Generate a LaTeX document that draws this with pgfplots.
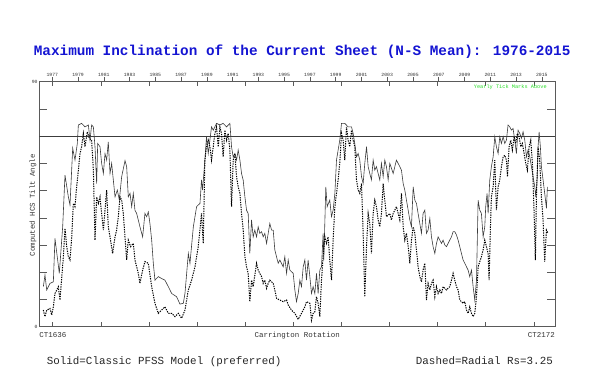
\documentclass[border=0pt]{standalone}
\usepackage{pgfplots}
\pgfplotsset{compat=1.18}
\usepackage{pgfplotstable}
\usepackage{fontspec}
\setmainfont{Liberation Mono}
\newfontfamily\mono{Liberation Mono}
\definecolor{titleblue}{RGB}{20,20,210}
\definecolor{solidgray}{RGB}{60,60,60}
\definecolor{boxgray}{RGB}{90,90,90}
\definecolor{limegreen}{RGB}{40,220,40}

\pgfplotstableread{
cr v
1640.2 14.7
1641.9 19.0
1643.7 13.5
1647.1 15.9
1650.6 16.5
1652.3 32.4
1656.8 19.6
1660.3 36.7
1662.7 55.7
1666.2 47.7
1667.9 44.7
1670.7 65.5
1673.1 61.2
1675.5 67.3
1676.6 74.1
1680.0 74.7
1683.5 73.4
1687.0 74.1
1688.7 68.5
1690.4 74.1
1692.2 73.4
1693.9 66.1
1695.6 52.6
1696.7 67.3
1699.1 66.1
1700.8 60.0
1702.6 56.3
1704.3 63.6
1706.0 61.2
1707.7 67.9
1709.5 56.3
1711.2 60.0
1714.7 47.7
1717.1 50.2
1719.2 46.5
1721.6 55.1
1725.1 61.0
1726.8 58.8
1728.5 47.7
1730.3 49.0
1732.0 44.1
1733.7 49.0
1735.4 42.8
1737.2 41.6
1740.6 36.7
1743.4 33.0
1745.8 41.6
1747.6 40.4
1749.3 42.2
1751.0 37.9
1752.8 31.8
1754.5 23.3
1756.2 17.1
1759.7 18.4
1763.1 17.7
1766.6 17.1
1770.1 14.7
1773.6 12.2
1778.7 11.0
1782.2 8.3
1785.7 8.6
1787.4 12.2
1790.9 26.9
1792.6 23.3
1796.1 36.7
1799.5 44.1
1803.0 45.3
1804.6 53.9
1805.7 50.2
1808.1 61.2
1809.8 69.8
1811.6 63.6
1813.3 68.5
1815.0 73.4
1816.8 72.2
1820.2 74.7
1823.7 74.1
1827.1 74.7
1830.6 73.4
1834.1 74.7
1835.8 66.1
1837.5 62.4
1839.3 63.6
1841.0 61.2
1842.7 64.9
1844.5 61.2
1846.2 56.3
1847.9 53.9
1849.7 47.7
1851.4 42.8
1853.1 41.6
1854.8 26.9
1856.6 39.2
1858.3 33.0
1860.0 35.5
1861.8 33.0
1863.5 36.7
1865.2 34.3
1867.0 34.9
1868.7 33.0
1870.4 34.3
1872.2 30.6
1875.6 37.9
1877.4 35.5
1879.1 35.5
1880.8 28.2
1884.3 23.3
1886.0 24.5
1889.5 22.0
1891.2 25.7
1893.0 19.6
1894.7 24.5
1896.4 20.8
1899.9 19.6
1901.6 13.5
1903.3 9.2
1905.1 12.2
1906.8 17.1
1908.5 14.7
1910.3 22.0
1912.0 24.5
1913.7 17.1
1915.4 24.5
1917.2 18.4
1918.9 12.2
1920.6 14.7
1922.4 12.2
1924.1 19.6
1925.8 12.2
1927.6 20.8
1929.3 22.0
1931.0 34.3
1931.7 24.5
1933.8 51.4
1935.2 44.1
1937.9 46.5
1939.7 40.4
1941.4 42.8
1943.2 49.0
1944.9 61.2
1946.6 64.9
1948.3 68.5
1950.1 74.7
1953.5 74.7
1957.0 73.4
1960.5 73.4
1962.2 71.0
1963.9 67.3
1965.7 62.4
1967.4 63.6
1969.1 61.2
1970.9 55.1
1972.6 52.6
1974.3 60.0
1976.1 66.1
1977.8 58.8
1979.5 56.3
1981.2 53.9
1983.0 61.2
1984.7 57.5
1986.4 58.8
1988.2 56.3
1989.9 53.9
1991.6 60.0
1993.4 55.1
1995.1 61.2
1996.8 58.8
1998.6 53.9
2000.3 60.0
2003.8 56.3
2007.2 61.2
2010.7 58.8
2012.4 57.5
2014.2 52.6
2015.9 50.2
2017.6 46.5
2019.4 42.8
2021.1 39.2
2022.8 36.7
2024.6 51.4
2026.3 46.5
2028.0 45.3
2029.7 41.6
2031.5 37.9
2033.2 34.3
2034.9 41.6
2036.7 42.8
2038.4 34.3
2040.1 35.5
2041.9 39.8
2043.6 33.0
2045.3 29.4
2047.1 26.9
2048.8 30.6
2050.5 33.0
2052.3 31.8
2054.0 30.6
2055.7 31.8
2057.5 30.0
2059.2 29.4
2060.9 30.6
2062.6 31.8
2064.4 33.0
2066.1 34.9
2067.8 34.9
2069.6 33.7
2071.3 31.8
2073.0 29.4
2074.8 26.9
2076.5 24.5
2078.2 23.3
2080.0 22.0
2081.7 20.8
2083.4 18.4
2085.2 20.8
2086.9 14.7
2088.6 9.8
2090.4 17.1
2092.1 46.5
2093.8 42.8
2095.5 41.6
2097.3 33.0
2099.0 36.7
2100.0 44.1
2101.4 49.0
2102.5 41.6
2104.2 53.9
2105.9 58.8
2107.7 62.4
2109.4 69.8
2111.1 66.1
2112.9 63.6
2114.6 69.8
2116.3 67.3
2118.1 69.8
2119.8 67.3
2121.5 68.5
2123.2 74.1
2125.0 73.4
2126.7 72.2
2128.4 72.8
2130.2 68.5
2131.9 63.6
2133.6 72.2
2135.4 71.0
2137.1 69.2
2138.8 71.6
2140.6 68.5
2142.3 62.4
2144.0 64.9
2145.8 62.4
2147.5 58.8
2149.2 55.1
2151.0 51.4
2152.0 47.7
2153.4 53.9
2154.4 66.1
2155.5 71.6
2156.8 66.1
2157.9 58.8
2159.6 53.9
2161.3 49.0
2163.1 43.5
2164.1 51.4
}\solidtab

\pgfplotstableread{
cr v
1640.2 6.1
1641.9 3.7
1643.7 6.1
1647.1 6.7
1648.9 4.3
1650.6 7.3
1652.3 12.2
1655.8 14.7
1657.5 9.8
1661.0 25.7
1662.7 36.1
1664.5 29.4
1666.2 25.7
1667.9 24.5
1669.7 33.0
1671.4 45.3
1673.1 44.1
1674.8 51.4
1676.6 57.5
1678.3 63.6
1680.0 66.1
1681.8 71.0
1683.5 66.1
1685.9 71.6
1688.0 69.2
1690.4 68.5
1692.2 57.5
1693.9 31.8
1695.6 47.7
1697.4 45.3
1699.1 47.7
1700.8 41.6
1702.6 35.5
1704.3 42.8
1706.0 50.2
1707.7 36.7
1709.5 33.0
1712.2 26.9
1714.7 33.0
1716.4 35.5
1718.1 40.4
1719.9 47.7
1721.6 46.5
1723.3 41.6
1726.8 24.5
1728.5 31.8
1730.9 29.4
1733.7 30.6
1735.4 24.5
1738.9 19.6
1740.6 15.9
1743.4 20.8
1745.8 23.9
1749.3 23.3
1752.8 14.7
1756.2 8.6
1759.7 4.9
1763.1 6.1
1766.6 7.3
1770.1 4.9
1773.6 4.9
1777.0 3.7
1780.5 4.9
1783.9 3.1
1787.4 6.1
1790.9 13.5
1794.3 17.1
1797.8 22.0
1801.2 29.4
1804.6 41.6
1806.4 30.6
1808.1 61.2
1809.8 66.1
1811.6 68.5
1813.3 66.1
1815.0 61.2
1816.8 66.1
1818.5 71.0
1820.2 73.4
1822.0 66.1
1823.7 73.4
1825.4 71.0
1827.1 62.4
1828.9 72.2
1830.6 68.5
1832.3 71.0
1834.1 64.9
1835.8 44.1
1837.5 61.2
1839.3 63.6
1841.0 55.1
1842.7 51.4
1844.5 49.0
1846.2 41.6
1847.9 35.5
1849.7 25.7
1851.4 22.0
1853.1 19.6
1854.8 9.2
1856.6 17.1
1858.3 14.7
1861.8 23.3
1863.5 20.8
1865.2 19.6
1867.0 18.4
1868.7 15.9
1870.4 17.1
1872.2 14.1
1873.9 15.9
1875.6 17.1
1877.4 16.5
1879.1 15.9
1880.8 13.5
1882.6 10.4
1886.0 9.8
1889.5 9.2
1893.0 9.8
1894.7 8.0
1898.1 6.1
1901.6 4.9
1905.1 2.7
1908.5 4.9
1912.0 7.3
1913.7 9.2
1917.2 8.6
1918.9 2.4
1920.6 4.9
1922.4 5.5
1924.1 11.0
1925.8 8.6
1927.6 3.7
1929.3 17.1
1931.0 25.7
1932.8 33.0
1934.5 30.6
1936.2 33.0
1937.9 24.5
1939.7 17.1
1941.4 31.8
1943.2 44.1
1944.9 49.0
1946.6 53.9
1948.3 60.0
1950.1 71.0
1951.8 68.5
1953.5 61.2
1955.3 73.4
1957.0 68.5
1958.7 66.1
1960.5 72.2
1962.2 68.5
1963.9 66.1
1965.7 53.9
1967.4 50.2
1969.1 49.0
1970.9 52.6
1972.6 34.3
1974.3 11.0
1976.1 29.4
1977.8 41.6
1979.5 37.9
1981.2 26.9
1983.0 41.6
1984.7 46.5
1986.4 44.1
1988.2 39.2
1989.9 36.7
1991.6 41.6
1993.4 52.6
1995.1 46.5
1996.8 40.4
2000.3 41.6
2002.0 39.2
2003.8 41.6
2007.2 44.1
2010.7 39.2
2012.4 49.0
2014.2 36.7
2015.9 31.8
2017.6 34.3
2019.4 29.4
2021.1 23.3
2022.8 31.8
2024.6 36.7
2026.3 34.3
2028.0 28.2
2029.7 22.0
2031.5 18.4
2033.2 16.5
2034.9 20.8
2036.7 23.3
2038.4 9.8
2040.1 15.9
2041.9 13.5
2043.6 15.9
2045.3 17.1
2047.1 11.0
2048.8 14.7
2050.5 12.2
2052.3 13.5
2054.0 12.2
2055.7 14.7
2059.2 13.5
2062.6 14.7
2064.4 17.1
2066.1 19.6
2067.8 17.1
2069.6 14.7
2071.3 13.5
2073.0 9.8
2076.5 8.6
2078.2 9.2
2080.0 6.1
2081.7 4.9
2083.4 7.3
2085.2 4.9
2086.9 3.7
2088.6 4.9
2090.4 11.0
2092.1 22.0
2093.8 23.9
2095.5 25.7
2097.3 28.2
2099.0 31.8
2100.7 29.4
2102.5 26.9
2103.5 17.1
2104.9 36.7
2105.9 47.7
2107.7 51.4
2109.4 61.2
2111.1 42.8
2112.9 51.4
2114.6 53.9
2116.3 58.8
2118.1 62.4
2119.8 63.0
2121.5 61.2
2122.6 55.1
2124.3 66.1
2126.0 68.5
2127.7 64.9
2129.5 69.8
2131.2 67.3
2132.9 71.0
2134.7 69.8
2136.4 66.1
2138.1 67.3
2139.9 63.6
2141.6 60.0
2143.3 57.5
2145.1 66.1
2146.8 68.5
2148.5 60.0
2150.3 41.6
2151.6 24.5
2152.7 47.7
2154.4 66.1
2156.1 61.2
2157.9 47.7
2159.6 39.2
2161.3 23.9
2163.1 35.5
2164.8 34.3
}\dashedtab

\begin{document}
\begin{tikzpicture}
\path[use as bounding box] (-39.3bp,-46.3bp) rectangle (565.7bp,326.7bp);
\begin{axis}[
  at={(0,0)}, anchor=south west,
  scale only axis,
  width=515.7bp, height=245bp,
  xmin=1636, xmax=2172,
  ymin=0, ymax=90,
  axis line style={boxgray, line width=0.7bp},
  xtick={1650,1700,...,2150},
  xticklabels={},
  xtick pos=both,
  xtick align=inside,
  xtick style={boxgray, line width=0.6bp, /pgfplots/major tick length=4.5bp},
  extra x ticks={1649.5,1676.3,1703.1,1729.8,1756.6,1783.4,1810.2,1837.0,1863.7,1890.5,1917.3,1944.1,1970.9,1997.6,2024.4,2051.2,2078.0,2104.8,2131.5,2158.3},
  extra x tick labels={1977,1979,1981,1983,1985,1987,1989,1991,1993,1995,1997,1999,2001,2003,2005,2007,2009,2011,2013,2015},
  extra x tick style={xtick pos=upper, xticklabel pos=upper, xtick align=outside,
     /pgfplots/major tick length=4bp,
     tick label style={font=\mono\fontsize{4.8}{5}\selectfont, inner sep=1.2bp, text=black!80}},
  ytick={0,10,...,90},
  yticklabels={0,,,,,,,,,90},
  ytick pos=both,
  ytick align=inside,
  ytick style={boxgray, line width=0.6bp, /pgfplots/major tick length=7.8bp},
  yticklabel style={font=\mono\fontsize{4.8}{5}\selectfont, inner sep=1.5bp, text=black!80},
  minor tick num=0,
]
\addplot[solidgray, line width=0.6bp] coordinates {(1636,70) (2172,70)};
\addplot[solidgray, line width=0.6bp] table[x=cr, y=v] {\solidtab};
\addplot[black, line width=1.0bp, dash pattern=on 1.3bp off 1.1bp] table[x=cr, y=v] {\dashedtab};
\end{axis}
% texts
\node[anchor=base, font=\mono\bfseries\fontsize{14.4}{16}\selectfont, text=titleblue] at (262.9bp,271bp) {Maximum Inclination of the Current Sheet (N-S Mean): 1976-2015};
\node[anchor=center, font=\mono\fontsize{5.3}{6}\selectfont, text=limegreen, inner sep=0pt] at (471bp,239.4bp) {Yearly Tick Marks Above};
\node[anchor=base west, font=\mono\fontsize{7.5}{8}\selectfont, text=black!80, inner sep=0pt] at (0bp,-10.3bp) {CT1636};
\node[anchor=base east, font=\mono\fontsize{7.5}{8}\selectfont, text=black!80, inner sep=0pt] at (515.7bp,-10.3bp) {CT2172};
\node[anchor=base, font=\mono\fontsize{7.5}{8}\selectfont, text=black!80, inner sep=0pt] at (257.85bp,-10.3bp) {Carrington Rotation};
\node[rotate=90, anchor=center, font=\mono\fontsize{7.4}{8}\selectfont, text=black!80, inner sep=0pt] at (-6.3bp,121.4bp) {Computed HCS Tilt Angle};
\node[anchor=base west, font=\mono\fontsize{10.9}{12}\selectfont, text=black!85, inner sep=0pt] at (7.4bp,-37.6bp) {Solid=Classic PFSS Model (preferred)};
\node[anchor=base east, font=\mono\fontsize{10.9}{12}\selectfont, text=black!85, inner sep=0pt] at (513.7bp,-37.6bp) {Dashed=Radial Rs=3.25};
\end{tikzpicture}
\end{document}
